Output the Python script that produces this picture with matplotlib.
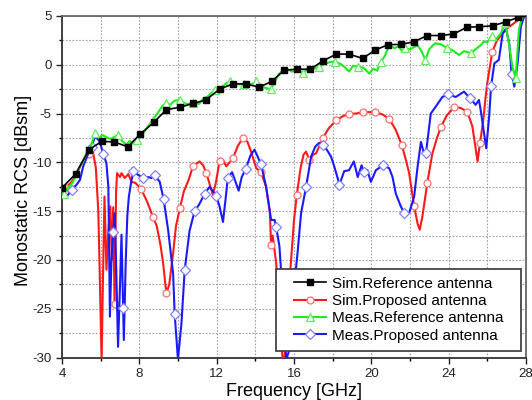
import numpy as np
import matplotlib
matplotlib.use("Agg")
import matplotlib.pyplot as plt
from matplotlib.ticker import MultipleLocator
from matplotlib.patches import Rectangle

plt.rcParams['font.family'] = ['Liberation Sans', 'DejaVu Sans']
plt.rcParams['axes.unicode_minus'] = False

# ---------------- data ----------------
sim_ref_f = [4.0, 4.7, 5.4, 6.05, 6.7, 7.4, 8.05, 8.75, 9.4, 10.1, 10.8, 11.45, 12.15, 12.85,
             13.5, 14.2, 14.85, 15.5, 16.15, 16.85, 17.5, 18.2, 18.85, 19.55, 20.2, 20.85,
             21.55, 22.2, 22.9, 23.6, 24.25, 24.95, 25.6, 26.3, 26.95, 27.6, 28.0]
sim_ref_v = [-12.6, -11.2, -8.7, -7.85, -7.9, -8.4, -7.1, -5.9, -4.6, -4.35, -3.95, -3.6, -2.5, -1.95,
             -1.95, -2.3, -1.7, -0.55, -0.45, -0.45, 0.4, 1.1, 1.1, 0.65, 1.5, 2.05,
             2.1, 2.35, 3.0, 3.0, 3.15, 3.85, 3.9, 4.0, 4.4, 4.85, 5.0]
sim_ref_mk = sim_ref_f[:-1]

meas_ref_f = [4.0, 4.1, 4.3, 4.5, 4.7, 4.93, 5.1, 5.3, 5.5, 5.7, 5.9, 6.1, 6.3, 6.5, 6.7, 6.9,
              7.1, 7.34, 7.5, 7.7, 7.9, 8.2, 8.45, 8.7, 9.0, 9.2, 9.4, 9.6, 9.8, 10.1, 10.4,
              10.6, 10.8, 11.1, 11.3, 11.5, 11.9, 12.2, 12.5, 12.7, 13.0, 13.4, 13.8, 14.05,
              14.4, 14.8, 15.0, 15.2, 15.47, 15.7, 15.9, 16.1, 16.46, 16.7, 17.0, 17.3, 17.6,
              17.9, 18.1, 18.4, 18.6, 18.86, 19.05, 19.3, 19.6, 19.9, 20.1, 20.3, 20.5, 20.7,
              20.93, 21.2, 21.4, 21.6, 21.75, 22.0, 22.2, 22.4, 22.6, 22.8, 23.0, 23.3, 23.6,
              23.94, 24.2, 24.54, 24.8, 25.14, 25.4, 25.66, 25.83, 26.0, 26.26, 26.45, 26.7,
              26.92, 27.1, 27.3, 27.47, 27.64, 27.8, 28.0]
meas_ref_v = [-12.9, -13.2, -12.6, -12.2, -11.5, -10.4, -9.9, -8.9, -8.3, -7.0, -7.5, -7.2, -7.4,
              -7.6, -7.4, -7.2, -7.8, -8.2, -7.8, -8.1, -7.7, -7.0, -6.3, -5.65, -4.8, -4.2,
              -3.9, -4.1, -3.7, -3.6, -4.0, -4.0, -3.9, -4.0, -3.5, -3.3, -2.6, -2.4, -1.9,
              -1.7, -2.0, -2.0, -2.0, -1.7, -2.3, -2.5, -1.8, -1.0, -0.45, -0.5, -0.7, -0.6,
              -0.8, -0.5, -0.4, -0.2, 0.1, 0.3, 0.3, 0.1, -0.2, -0.7, -0.1, -0.2, -0.3, -0.9,
              -0.4, -0.6, 0.3, 0.9, 2.0, 1.7, 1.9, 1.4, 1.7, 1.6, 1.8, 2.0, 1.4, 0.5, 1.6, 2.2,
              2.1, 1.7, 1.5, 1.0, 1.4, 1.2, 1.6, 2.0, 2.4, 2.3, 3.0, 2.6, 3.2, 4.25, 2.5, -0.2,
              -1.4, 3.6, 4.9, 5.1]
meas_ref_mk = [4.1, 5.7, 6.9, 7.9, 8.7, 9.4, 10.1, 10.8, 11.9, 12.7, 13.4, 14.05, 14.8, 16.46,
               17.3, 18.1, 19.3, 20.5, 21.75, 22.8, 23.94, 25.14, 26.26, 26.92, 27.47]

sim_pro_f = [4.0, 4.2, 4.5, 4.8, 5.1, 5.4, 5.6, 5.75, 5.88, 5.96, 6.05, 6.12, 6.2, 6.3, 6.4, 6.5,
             6.58, 6.65, 6.72, 6.8, 6.85, 7.0, 7.08, 7.25, 7.43, 7.6, 7.8, 8.1, 8.4, 8.71, 8.9,
             9.1, 9.23, 9.4, 9.55, 9.75, 9.9, 10.1, 10.3, 10.55, 10.78, 11.12, 11.3, 11.47,
             11.65, 11.8, 11.95, 12.15, 12.35, 12.5, 12.84, 13.1, 13.36, 13.6, 13.8, 14.05,
             14.3, 14.56, 14.75, 14.82, 14.9, 15.08, 15.25, 15.4, 15.5, 15.65, 15.78, 16.0,
             16.15, 16.35, 16.5, 16.63, 16.8, 17.0, 17.15, 17.5, 17.8, 18.18, 18.5, 18.86,
             19.2, 19.55, 19.9, 20.2, 20.6, 20.93, 21.25, 21.58, 21.8, 21.96, 22.22, 22.4,
             22.51, 22.65, 22.9, 23.16, 23.4, 23.6, 23.9, 24.28, 24.6, 24.97, 25.23, 25.5,
             25.63, 25.8, 25.9, 26.0, 26.26, 26.5, 26.95, 27.38, 27.8, 28.0]
sim_pro_v = [-12.7, -12.6, -12.0, -11.0, -9.8, -9.1, -8.9, -10.5, -15.0, -22.0, -30.5, -22.0,
             -13.5, -21.0, -17.0, -14.5, -20.0, -14.6, -24.5, -13.0, -11.1, -11.5, -11.1,
             -11.6, -11.2, -12.0, -12.1, -12.75, -14.0, -15.6, -16.5, -18.5, -20.3, -23.4,
             -22.5, -19.3, -16.5, -14.7, -13.0, -11.8, -10.4, -9.9, -10.3, -11.1, -12.3,
             -13.3, -12.2, -9.9, -9.8, -10.4, -9.6, -8.3, -7.5, -7.9, -9.0, -10.6, -11.0,
             -12.5, -15.0, -18.5, -17.5, -20.3, -25.0, -29.8, -30.5, -26.0, -22.0, -16.0,
             -13.3, -10.5, -9.2, -8.9, -9.75, -9.2, -9.06, -7.5, -6.5, -5.7, -5.3, -5.0, -5.0,
             -4.85, -4.85, -4.85, -5.1, -5.55, -6.6, -8.2, -9.8, -11.1, -14.5, -16.3, -16.9,
             -15.5, -12.1, -9.1, -7.5, -6.4, -5.2, -4.35, -4.4, -4.8, -6.3, -9.9, -8.0, -5.6,
             -3.6, -1.9, 1.3, 2.5, 3.6, 4.25, 4.9, 5.0]
sim_pro_mk = [4.2, 5.4, 6.72, 8.1, 8.71, 9.4, 10.1, 10.78, 11.47, 12.15, 12.84, 13.36, 14.3,
              14.82, 16.15, 16.8, 17.5, 18.18, 18.86, 19.55, 20.2, 20.93, 21.58, 22.22, 22.9,
              23.6, 24.28, 24.97, 25.63, 26.26]

meas_pro_f = [4.0, 4.25, 4.5, 4.75, 4.93, 5.1, 5.36, 5.53, 5.7, 5.85, 5.96, 6.13, 6.3, 6.4, 6.48,
              6.56, 6.65, 6.73, 6.82, 6.9, 6.98, 7.08, 7.16, 7.2, 7.3, 7.38, 7.46, 7.6, 7.7,
              7.95, 8.2, 8.45, 8.63, 8.8, 9.06, 9.26, 9.49, 9.75, 9.83, 10.0, 10.18, 10.35,
              10.6, 10.86, 11.1, 11.38, 11.64, 11.98, 12.15, 12.33, 12.45, 12.58, 12.8, 12.98,
              13.14, 13.3, 13.5, 13.75, 13.96, 14.1, 14.3, 14.56, 14.82, 15.0, 15.08, 15.25,
              15.4, 15.6, 15.8, 15.95, 16.2, 16.37, 16.63, 16.89, 17.1, 17.3, 17.49, 17.7,
              17.92, 18.1, 18.26, 18.35, 18.6, 18.85, 19.1, 19.3, 19.5, 19.62, 19.8, 19.98,
              20.24, 20.6, 20.93, 21.1, 21.27, 21.53, 21.7, 21.96, 22.22, 22.4, 22.57, 22.74,
              22.83, 23.08, 23.33, 23.68, 23.99, 24.37, 24.6, 24.8, 25.1, 25.4, 25.57, 25.66,
              25.8, 25.95, 26.1, 26.2, 26.37, 26.6, 26.8, 26.97, 27.14, 27.26, 27.4, 27.57,
              27.74, 27.9, 28.0]
meas_pro_v = [-12.6, -13.5, -12.8, -12.3, -11.8, -10.4, -9.1, -8.4, -7.4, -7.6, -7.9, -9.1,
              -10.1, -12.5, -25.8, -20.0, -17.1, -15.2, -22.0, -28.9, -24.0, -17.4, -24.9,
              -28.2, -20.0, -15.5, -13.5, -11.8, -10.9, -11.3, -11.6, -11.5, -11.6, -11.3,
              -12.0, -13.8, -16.9, -21.4, -25.5, -30.2, -26.5, -21.0, -17.0, -15.0, -14.3,
              -13.2, -12.5, -13.4, -14.5, -16.1, -14.0, -11.6, -11.0, -12.0, -12.9, -11.5,
              -10.7, -9.3, -8.7, -9.3, -10.2, -12.5, -15.9, -15.9, -16.6, -18.6, -23.0, -30.2,
              -29.0, -24.0, -19.0, -15.2, -12.5, -9.4, -8.4, -8.0, -8.2, -8.7, -9.4, -10.5,
              -11.6, -12.3, -10.9, -10.8, -9.9, -11.5, -10.3, -11.0, -10.8, -12.0, -10.8, -10.3,
              -10.6, -11.5, -13.2, -14.5, -15.2, -15.2, -13.5, -10.4, -7.9, -9.2, -9.06, -5.0,
              -4.3, -3.3, -3.0, -3.3, -3.0, -2.75, -3.4, -4.1, -3.6, -4.6, -6.5, -8.55, -5.3,
              -2.2, 0.15, 0.5, 3.2, 3.7, 2.2, -0.9, -2.24, 0.15, 3.9, 4.9, 5.2]
meas_pro_mk = [4.5, 5.53, 6.13, 6.65, 7.16, 7.7, 8.2, 8.8, 9.26, 9.83, 10.35, 10.86, 11.38,
               11.98, 12.58, 13.5, 14.3, 15.08, 16.63, 17.49, 18.35, 19.62, 20.6, 21.7, 22.83,
               23.99, 25.1, 26.2, 27.26]

labels = ["Sim.Reference antenna", "Sim.Proposed antenna",
          "Meas.Reference antenna", "Meas.Proposed antenna"]

# ---------------- figure ----------------
fig = plt.figure(figsize=(5.32, 4.0), dpi=100)
ax = fig.add_axes([0.1165, 0.106, 0.872, 0.854])


def idx(f, mk):
    f = np.asarray(f)
    return [int(np.argmin(np.abs(f - m))) for m in mk]


lw = 1.5
ax.plot(sim_ref_f, sim_ref_v, color='black', lw=1.2, marker='s', ms=4.2,
        mfc='black', mec='black', markevery=idx(sim_ref_f, sim_ref_mk), label=labels[0], zorder=5)
ax.plot(sim_pro_f, sim_pro_v, color='#ff1a1a', lw=lw, marker='o', ms=5,
        mfc='white', mec='#ff7070', mew=0.9, markevery=idx(sim_pro_f, sim_pro_mk), label=labels[1], zorder=3)
ax.plot(meas_ref_f, meas_ref_v, color='#1aee1a', lw=lw, marker='^', ms=5.5,
        mfc='white', mec='#60ee60', mew=0.9, markevery=idx(meas_ref_f, meas_ref_mk), label=labels[2], zorder=4)
ax.plot(meas_pro_f, meas_pro_v, color='#1a1aff', lw=lw, marker='D', ms=4.8,
        mfc='white', mec='#8080ff', mew=0.9, markevery=idx(meas_pro_f, meas_pro_mk), label=labels[3], zorder=3)

ax.set_xlim(4, 28)
ax.set_ylim(-30, 5)
ax.xaxis.set_major_locator(MultipleLocator(4))
ax.xaxis.set_minor_locator(MultipleLocator(2))
ax.yaxis.set_major_locator(MultipleLocator(5))
ax.yaxis.set_minor_locator(MultipleLocator(2.5))
ax.grid(True, which='both', color='#a0a0a0', linestyle=(0, (1.5, 1.5)), linewidth=0.8)
ax.set_axisbelow(True)

ax.tick_params(which='major', direction='out', length=4, width=1.0, labelsize=9.5,
               colors='#222222', top=False, right=False)
ax.tick_params(which='minor', direction='out', length=2.5, width=1.0, top=False, right=False)
for s in ['left', 'bottom']:
    ax.spines[s].set_color('#333333')
    ax.spines[s].set_linewidth(1.3)
for s in ['top', 'right']:
    ax.spines[s].set_color('#666666')
    ax.spines[s].set_linewidth(1.3)

ax.set_xlabel('Frequency [GHz]', fontsize=13, labelpad=2)
ax.set_ylabel('Monostatic RCS [dBsm]', fontsize=13)
ax.yaxis.set_label_coords(-0.064, 0.49)

# legend box (frame drawn separately to get the wide side padding of the original)
box = (0.462, 0.02, 0.527, 0.24)
ax.add_patch(Rectangle(box[:2], box[2], box[3], transform=ax.transAxes,
                       facecolor='white', edgecolor='#444444', linewidth=1.3, zorder=10))
leg = ax.legend(loc='center', bbox_to_anchor=box, fontsize=11, frameon=False,
                handlelength=2.1, handletextpad=0.4, labelspacing=0.22, borderpad=0.2,
                borderaxespad=0.0)
leg.set_zorder(11)

fig.savefig('out.png', dpi=100)
